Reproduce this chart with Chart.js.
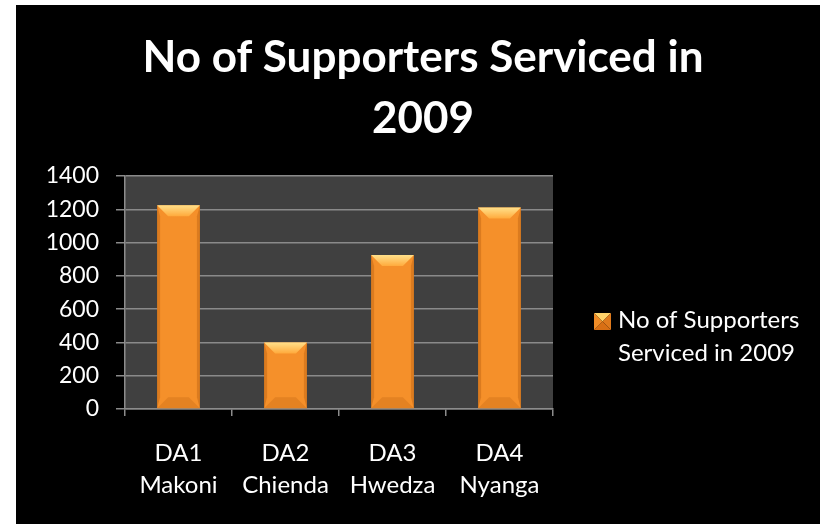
<!DOCTYPE html>
<html>
<head>
<meta charset="utf-8">
<script src="https://cdn.jsdelivr.net/npm/chart.js@4/dist/chart.umd.min.js"></script>
<style>
  html, body { margin: 0; padding: 0; background: #ffffff; }
  #wrap { position: absolute; left: 16px; top: 5px; width: 804px; height: 519px; background: #000000; }
  canvas { display: block; }
</style>
</head>
<body>
<div id="wrap"><canvas id="chart" width="804" height="519"></canvas></div>
<script>
// Districts and supporters serviced
const categories = [["DA1", "Makoni"], ["DA2", "Chienda"], ["DA3", "Hwedza"], ["DA4", "Nyanga"]];
const supporters = [1225, 400, 925, 1210];
const seriesName = "No of Supporters Serviced in 2009";
const legendLines = ["No of Supporters", "Serviced in 2009"];
const titleLines = ["No of Supporters Serviced in", "2009"];
const yTicks = [0, 200, 400, 600, 800, 1000, 1200, 1400];

const FONT = "Lato, 'Open Sans', 'Liberation Sans', sans-serif";

// Grey plot background
const plotBackground = {
  id: 'plotBackground',
  beforeDraw(chart) {
    const { ctx, chartArea: a } = chart;
    ctx.save();
    ctx.fillStyle = '#404040';
    ctx.fillRect(a.left, a.top, a.right - a.left, a.bottom - a.top);
    ctx.restore();
  }
};

// Two-line title centred on the whole canvas
const canvasTitle = {
  id: 'canvasTitle',
  afterDraw(chart) {
    const ctx = chart.ctx;
    ctx.save();
    ctx.fillStyle = '#ffffff';
    ctx.font = 'bold 44px ' + FONT;
    ctx.textAlign = 'center';
    ctx.textBaseline = 'middle';
    ctx.fillText(titleLines[0], chart.width / 2 + 5, 53);
    ctx.fillText(titleLines[1], chart.width / 2 + 5, 114);
    ctx.restore();
  }
};

// Bevelled look on each bar, using the bar element geometry
const bevel = {
  id: 'bevel',
  afterDatasetsDraw(chart) {
    const ctx = chart.ctx;
    const meta = chart.getDatasetMeta(0);
    meta.data.forEach(bar => {
      const w = bar.width;
      const l = bar.x - w / 2, r = bar.x + w / 2;
      const t = bar.y, b = bar.base;
      const bt = Math.min(11, (b - t) / 3);
      const bs = 3;
      ctx.save();
      // top facet
      let g = ctx.createLinearGradient(0, t, 0, t + bt);
      g.addColorStop(0, '#ffe08a');
      g.addColorStop(1, '#ffaa3c');
      ctx.fillStyle = g;
      ctx.beginPath();
      ctx.moveTo(l, t); ctx.lineTo(r, t);
      ctx.lineTo(r - bt, t + bt); ctx.lineTo(l + bt, t + bt);
      ctx.closePath(); ctx.fill();
      // bottom facet
      ctx.fillStyle = 'rgba(170,80,10,0.22)';
      ctx.beginPath();
      ctx.moveTo(l, b); ctx.lineTo(r, b);
      ctx.lineTo(r - bt, b - bt); ctx.lineTo(l + bt, b - bt);
      ctx.closePath(); ctx.fill();
      // side facets
      ctx.fillStyle = 'rgba(150,70,5,0.28)';
      ctx.beginPath();
      ctx.moveTo(l, t); ctx.lineTo(l + bs, t + bt); ctx.lineTo(l + bs, b - bt); ctx.lineTo(l, b);
      ctx.closePath(); ctx.fill();
      ctx.beginPath();
      ctx.moveTo(r, t); ctx.lineTo(r - bs, t + bt); ctx.lineTo(r - bs, b - bt); ctx.lineTo(r, b);
      ctx.closePath(); ctx.fill();
      ctx.restore();
    });
  }
};

// Two-line legend on the right
const sideLegend = {
  id: 'sideLegend',
  afterDraw(chart) {
    const ctx = chart.ctx;
    const a = chart.chartArea;
    const mx = a.right + 41, my = 308;
    const s = 17;
    ctx.save();
    // pyramid marker
    const cx = mx + s / 2, cy = my + s / 2;
    const faces = [
      [[mx, my], [mx + s, my], '#ffd36a'],
      [[mx + s, my], [mx + s, my + s], '#e07a1c'],
      [[mx + s, my + s], [mx, my + s], '#d86f14'],
      [[mx, my + s], [mx, my], '#f08c26']
    ];
    faces.forEach(f => {
      ctx.fillStyle = f[2];
      ctx.beginPath();
      ctx.moveTo(f[0][0], f[0][1]); ctx.lineTo(f[1][0], f[1][1]); ctx.lineTo(cx, cy);
      ctx.closePath(); ctx.fill();
    });
    ctx.fillStyle = '#ffffff';
    ctx.font = '24px ' + FONT;
    ctx.textBaseline = 'middle';
    ctx.textAlign = 'left';
    ctx.fillText(legendLines[0], mx + 24, my + s / 2 - 1);
    ctx.fillText(legendLines[1], mx + 24, my + s / 2 + 32);
    ctx.restore();
  }
};

const ctx = document.getElementById('chart').getContext('2d');
new Chart(ctx, {
  type: 'bar',
  data: {
    labels: categories,
    datasets: [{
      label: seriesName,
      data: supporters,
      backgroundColor(c) {
        const el = c.element;
        if (!el || el.width === undefined) return '#f5902a';
        const l = el.x - el.width / 2, r = el.x + el.width / 2;
        if (!isFinite(l) || !isFinite(r)) return '#f5902a';
        const g = c.chart.ctx.createLinearGradient(l, 0, r, 0);
        g.addColorStop(0, '#e27c1c');
        g.addColorStop(0.5, '#ff9a30');
        g.addColorStop(1, '#e27c1c');
        return g;
      },
      borderWidth: 0,
      categoryPercentage: 1.0,
      barPercentage: 0.4
    }]
  },
  options: {
    responsive: false,
    animation: false,
    devicePixelRatio: 1,
    layout: { padding: { left: 0, right: 267, top: 171, bottom: 0 } },
    plugins: {
      legend: { display: false },
      tooltip: { enabled: false },
      title: { display: false }
    },
    scales: {
      x: {
        afterFit(scale) { scale.height = 115; },
        grid: {
          display: true,
          drawOnChartArea: false,
          drawTicks: true,
          tickLength: 7,
          color: '#8c8c8c',
          lineWidth: 1.5,
          offset: true
        },
        border: { display: true, color: '#8c8c8c', width: 1.5 },
        ticks: {
          color: '#ffffff',
          font: { family: FONT, size: 24, lineHeight: 1.35 },
          padding: 21,
          maxRotation: 0,
          autoSkip: false
        }
      },
      y: {
        min: 0,
        max: 1400,
        afterFit(scale) { scale.width = 109; },
        afterBuildTicks(scale) { scale.ticks = yTicks.map(v => ({ value: v })); },
        grid: {
          color: '#8a8a8a',
          lineWidth: 1.5,
          drawTicks: true,
          tickLength: 9
        },
        border: { display: true, color: '#8c8c8c', width: 1.5 },
        ticks: {
          color: '#ffffff',
          font: { family: FONT, size: 23 },
          padding: 17,
          callback: v => String(v)
        }
      }
    }
  },
  plugins: [plotBackground, bevel, sideLegend, canvasTitle]
});
</script>
</body>
</html>
